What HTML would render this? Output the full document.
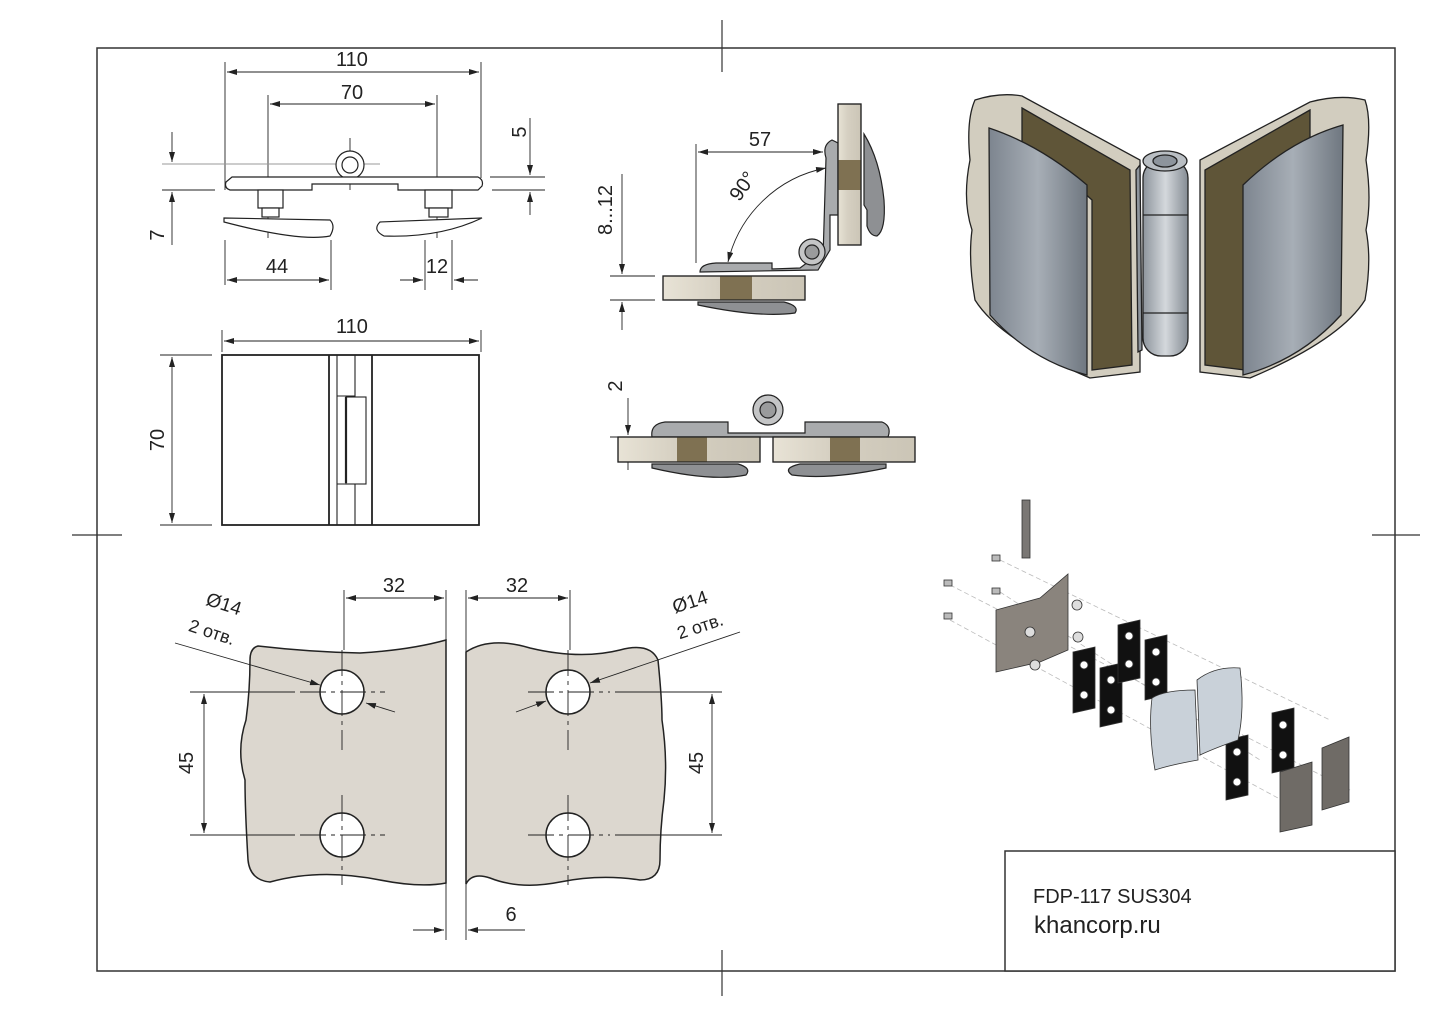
<!DOCTYPE html>
<html><head><meta charset="utf-8"><style>
html,body{margin:0;padding:0;background:#fff;}
svg{display:block;}
text{font-family:"Liberation Sans",sans-serif;fill:#222;}
</style></head><body>
<svg width="1443" height="1020" viewBox="0 0 1443 1020" xmlns="http://www.w3.org/2000/svg">
<defs>
<marker id="a" viewBox="0 0 10 6" refX="10" refY="3" markerWidth="10" markerHeight="6" orient="auto-start-reverse" markerUnits="userSpaceOnUse"><path d="M0,0 L10,3 L0,6 Z" fill="#222"/></marker>
<linearGradient id="gm" x1="0" x2="1"><stop offset="0" stop-color="#7d858f"/><stop offset="0.5" stop-color="#a7aeb6"/><stop offset="1" stop-color="#6f7780"/></linearGradient>
<linearGradient id="gk" x1="0" x2="1"><stop offset="0" stop-color="#8d949c"/><stop offset="0.5" stop-color="#d4d8dc"/><stop offset="1" stop-color="#858c94"/></linearGradient>
<linearGradient id="gg" x1="0" x2="1"><stop offset="0" stop-color="#e8e3d6"/><stop offset="0.4" stop-color="#d6d0c2"/><stop offset="1" stop-color="#cbc5b6"/></linearGradient>
</defs>
<rect width="1443" height="1020" fill="#fff"/>
<!-- frame -->
<rect x="97" y="48" width="1298" height="923" fill="none" stroke="#333" stroke-width="1.5"/>
<g stroke="#333" stroke-width="1.2">
<line x1="722" y1="20" x2="722" y2="72"/><line x1="722" y1="950" x2="722" y2="996"/>
<line x1="72" y1="535" x2="122" y2="535"/><line x1="1372" y1="535" x2="1420" y2="535"/>
</g>
<!-- title box -->
<rect x="1005" y="851" width="390" height="120" fill="#fff" stroke="#333" stroke-width="1.5"/>
<text x="1033" y="903" font-size="20">FDP-117 SUS304</text>
<text x="1034" y="933" font-size="24">khancorp.ru</text>

<!-- TOP VIEW -->
<g stroke="#222" stroke-width="0.9" fill="none">
<line x1="225" y1="62" x2="225" y2="190"/><line x1="481" y1="62" x2="481" y2="178"/>
<line x1="227" y1="72" x2="479" y2="72" marker-start="url(#a)" marker-end="url(#a)"/>
<line x1="268" y1="95" x2="268" y2="238"/><line x1="437" y1="95" x2="437" y2="238"/>
<line x1="270" y1="104" x2="435" y2="104" marker-start="url(#a)" marker-end="url(#a)"/>
<line x1="490" y1="177" x2="545" y2="177"/><line x1="492" y1="190" x2="545" y2="190"/>
<line x1="530" y1="118" x2="530" y2="175" marker-end="url(#a)"/><line x1="530" y1="215" x2="530" y2="192" marker-end="url(#a)"/>
<line x1="162" y1="164" x2="380" y2="164" stroke="#999"/><line x1="162" y1="190" x2="215" y2="190"/>
<line x1="172" y1="132" x2="172" y2="162" marker-end="url(#a)"/><line x1="172" y1="245" x2="172" y2="192" marker-end="url(#a)"/>
<line x1="350" y1="138" x2="350" y2="190"/>
<line x1="331" y1="240" x2="331" y2="290"/><line x1="225" y1="240" x2="225" y2="285"/>
<line x1="227" y1="280" x2="329" y2="280" marker-start="url(#a)" marker-end="url(#a)"/>
<line x1="425" y1="240" x2="425" y2="290"/><line x1="452" y1="240" x2="452" y2="290"/>
<line x1="400" y1="280" x2="423" y2="280" marker-end="url(#a)"/><line x1="478" y1="280" x2="454" y2="280" marker-end="url(#a)"/>
</g>
<text x="352" y="66" font-size="20" text-anchor="middle">110</text>
<text x="352" y="99" font-size="20" text-anchor="middle">70</text>
<text x="277" y="273" font-size="20" text-anchor="middle">44</text>
<text x="437" y="273" font-size="20" text-anchor="middle">12</text>
<text transform="translate(526,132) rotate(-90)" font-size="20" text-anchor="middle">5</text>
<text transform="translate(164,235) rotate(-90)" font-size="20" text-anchor="middle">7</text>
<g stroke="#222" stroke-width="1.2" fill="#fff">
<circle cx="350" cy="165" r="14"/><circle cx="350" cy="165" r="8"/>
<path d="M232,177 L335,177 L365,177 L478,177 Q484,180 482,186 L478,190 L398,190 L398,184 L330,184 L312,184 L312,190 L230,190 Q224,188 226,182 Z"/>
<rect x="258" y="190" width="25" height="18"/><rect x="262" y="208" width="17" height="9"/>
<rect x="425" y="190" width="27" height="18"/><rect x="429" y="208" width="19" height="9"/>
<path d="M224,218 L330,220 Q336,226 330,236 Q300,242 224,222 Z"/>
<path d="M380,222 L482,218 Q440,238 384,236 Q372,230 380,222 Z"/>
</g>

<!-- FRONT VIEW -->
<g stroke="#222" stroke-width="0.9" fill="none">
<line x1="222" y1="330" x2="222" y2="352"/><line x1="481" y1="330" x2="481" y2="352"/>
<line x1="224" y1="341" x2="479" y2="341" marker-start="url(#a)" marker-end="url(#a)"/>
<line x1="160" y1="355" x2="212" y2="355"/><line x1="160" y1="525" x2="212" y2="525"/>
<line x1="172" y1="357" x2="172" y2="523" marker-start="url(#a)" marker-end="url(#a)"/>
</g>
<text x="352" y="333" font-size="20" text-anchor="middle">110</text>
<text transform="translate(164,440) rotate(-90)" font-size="20" text-anchor="middle">70</text>
<g stroke="#222" stroke-width="1.8" fill="none">
<rect x="222" y="355" width="257" height="170"/>
<line x1="329" y1="355" x2="329" y2="525"/><line x1="372" y1="355" x2="372" y2="525"/>
<line x1="346" y1="397" x2="346" y2="483" stroke-width="2.2"/>
</g>
<g stroke="#222" stroke-width="1.1" fill="none">
<line x1="337" y1="355" x2="337" y2="525"/>
<path d="M337,396 L355,396 L355,355"/><path d="M337,484 L355,484 L355,525"/>
<rect x="346" y="397" width="20" height="87"/>
</g>

<!-- SIDE 90 VIEW -->
<g stroke="#222" stroke-width="0.9" fill="none">
<line x1="696" y1="144" x2="696" y2="263"/>
<line x1="698" y1="152" x2="823" y2="152" marker-start="url(#a)" marker-end="url(#a)"/>
<path d="M826,168 A125,125 0 0 0 728,262" marker-start="url(#a)" marker-end="url(#a)"/>
<line x1="610" y1="276" x2="655" y2="276"/><line x1="610" y1="300" x2="655" y2="300"/>
<line x1="622" y1="174" x2="622" y2="274" marker-end="url(#a)"/><line x1="622" y1="330" x2="622" y2="302" marker-end="url(#a)"/>
</g>
<text x="760" y="146" font-size="20" text-anchor="middle">57</text>
<text transform="translate(748,190) rotate(-55)" font-size="20" text-anchor="middle">90°</text>
<text transform="translate(612,210) rotate(-90)" font-size="20" text-anchor="middle">8...12</text>
<g stroke="#222" stroke-width="1.2">
<path d="M700,272 Q700,264 716,263 L772,263 L772,269 L800,268 L808,262 L823,258 L826,158 Q822,145 832,140 L838,143 L838,215 L830,215 L830,250 L818,270 L700,272 Z" fill="#a9abad"/>
<circle cx="812" cy="252" r="13" fill="#c4c5c6"/><circle cx="812" cy="252" r="7" fill="#9a9b9c"/>
<rect x="663" y="276" width="142" height="24" fill="url(#gg)"/>
<rect x="720" y="276" width="32" height="24" fill="#7f7152" stroke="none"/>
<rect x="838" y="104" width="23" height="141" fill="url(#gg)"/>
<rect x="838" y="160" width="23" height="30" fill="#7f7152" stroke="none"/>
<rect x="663" y="276" width="142" height="24" fill="none"/>
<rect x="838" y="104" width="23" height="141" fill="none"/>
<path d="M698,302 L784,302 Q800,306 795,313 Q760,318 698,305 Z" fill="#8e9093"/>
<path d="M864,134 Q880,160 884,200 Q886,230 877,236 Q870,236 867,226 L867,210 L864,205 Z" fill="#8e9093"/>
</g>

<!-- FLAT VIEW -->
<g stroke="#222" stroke-width="0.9" fill="none">
<line x1="610" y1="437" x2="640" y2="437"/>
<line x1="628" y1="398" x2="628" y2="435" marker-end="url(#a)"/><line x1="628" y1="470" x2="628" y2="439" marker-end="url(#a)"/>
</g>
<text transform="translate(622,386) rotate(-90)" font-size="20" text-anchor="middle">2</text>
<g stroke="#222" stroke-width="1.2">
<path d="M652,437 Q650,424 665,422 L728,422 L728,433 L805,433 L805,422 L882,422 Q892,426 888,437 Z" fill="#a9abad"/>
<circle cx="768" cy="410" r="15" fill="#c4c5c6"/><circle cx="768" cy="410" r="8" fill="#9a9b9c"/>
<rect x="618" y="437" width="142" height="25" fill="url(#gg)"/>
<rect x="677" y="437" width="30" height="25" fill="#7f7152" stroke="none"/>
<rect x="618" y="437" width="142" height="25" fill="none"/>
<rect x="773" y="437" width="142" height="25" fill="url(#gg)"/>
<rect x="830" y="437" width="30" height="25" fill="#7f7152" stroke="none"/>
<rect x="773" y="437" width="142" height="25" fill="none"/>
<path d="M652,464 L738,464 Q752,468 746,475 Q712,482 652,468 Z" fill="#8e9093"/>
<path d="M886,464 L800,464 Q782,468 792,475 Q830,480 886,468 Z" fill="#8e9093"/>
</g>

<!-- BOTTOM PLATES -->
<g stroke="#222" stroke-width="1.5" fill="#dcd7cf">
<path d="M258,646 Q310,652 360,653 Q410,650 446,640 L446,883 Q420,888 380,880 Q320,868 270,882 Q250,880 248,860 Q245,810 245,780 Q236,750 246,720 Q250,690 250,660 Q250,648 258,646 Z"/>
<path d="M466,652 Q490,636 530,648 Q580,660 620,650 Q650,642 658,660 Q662,700 662,720 Q668,760 664,800 Q660,830 660,860 Q660,880 640,880 Q600,874 560,882 Q520,890 490,878 Q472,872 466,884 Z"/>
</g>
<g stroke="#222" stroke-width="1.5" fill="#fff">
<circle cx="342" cy="692" r="22"/><circle cx="342" cy="835" r="22"/>
<circle cx="568" cy="692" r="22"/><circle cx="568" cy="835" r="22"/>
</g>
<g stroke="#222" stroke-width="0.9" fill="none" stroke-dasharray="26,5,4,5">
<line x1="342" y1="650" x2="342" y2="750"/><line x1="342" y1="795" x2="342" y2="885"/>
<line x1="568" y1="650" x2="568" y2="750"/><line x1="568" y1="795" x2="568" y2="885"/>
<line x1="300" y1="692" x2="385" y2="692"/><line x1="300" y1="835" x2="385" y2="835"/>
<line x1="528" y1="692" x2="610" y2="692"/><line x1="528" y1="835" x2="610" y2="835"/>
</g>
<g stroke="#222" stroke-width="0.9" fill="none">
<line x1="190" y1="692" x2="295" y2="692"/><line x1="190" y1="835" x2="295" y2="835"/>
<line x1="204" y1="694" x2="204" y2="833" marker-start="url(#a)" marker-end="url(#a)"/>
<line x1="615" y1="692" x2="722" y2="692"/><line x1="615" y1="835" x2="722" y2="835"/>
<line x1="712" y1="694" x2="712" y2="833" marker-start="url(#a)" marker-end="url(#a)"/>
<line x1="344" y1="590" x2="344" y2="650"/><line x1="446" y1="590" x2="446" y2="940"/>
<line x1="466" y1="590" x2="466" y2="940"/><line x1="570" y1="590" x2="570" y2="650"/>
<line x1="346" y1="598" x2="444" y2="598" marker-start="url(#a)" marker-end="url(#a)"/>
<line x1="468" y1="598" x2="568" y2="598" marker-start="url(#a)" marker-end="url(#a)"/>
<line x1="413" y1="930" x2="444" y2="930" marker-end="url(#a)"/>
<line x1="525" y1="930" x2="468" y2="930" marker-end="url(#a)"/>
<line x1="175" y1="643" x2="320" y2="685" marker-end="url(#a)"/>
<line x1="395" y1="712" x2="366" y2="703" marker-end="url(#a)"/>
<line x1="740" y1="632" x2="590" y2="683" marker-end="url(#a)"/>
<line x1="516" y1="712" x2="546" y2="701" marker-end="url(#a)"/>
</g>
<text x="394" y="592" font-size="20" text-anchor="middle">32</text>
<text x="517" y="592" font-size="20" text-anchor="middle">32</text>
<text x="511" y="921" font-size="20" text-anchor="middle">6</text>
<text transform="translate(193,763) rotate(-90)" font-size="20" text-anchor="middle">45</text>
<text transform="translate(703,763) rotate(-90)" font-size="20" text-anchor="middle">45</text>
<text transform="translate(222,610) rotate(18)" font-size="19" text-anchor="middle">Ø14</text>
<text transform="translate(210,638) rotate(18)" font-size="18" text-anchor="middle">2 отв.</text>
<text transform="translate(692,608) rotate(-18)" font-size="19" text-anchor="middle">Ø14</text>
<text transform="translate(702,632) rotate(-18)" font-size="18" text-anchor="middle">2 отв.</text>

<!-- 3D VIEW -->
<g stroke="#222" stroke-width="1.3">
<path d="M975,100 Q1000,92 1022,96 L1140,160 L1140,372 L1090,378 Q1000,340 975,300 Q968,260 972,230 Q962,200 970,160 Q966,120 975,100 Z" fill="#d2cdbf"/>
<path d="M1022,108 L1130,170 L1132,365 L1092,370 L1092,200 Q1060,170 1022,150 Z" fill="#5f5538"/>
<path d="M989,128 Q1040,145 1087,185 L1087,375 Q1030,360 990,315 Z" fill="url(#gm)"/>
<path d="M1140,165 L1142,350 L1138,352 L1136,170 Z" fill="#8d949c"/>
<path d="M1365,100 Q1340,94 1310,102 L1200,160 L1200,372 L1250,378 Q1340,340 1365,300 Q1372,260 1366,230 Q1372,200 1366,160 Q1372,120 1365,100 Z" fill="#d2cdbf"/>
<path d="M1310,110 L1205,170 L1205,365 L1245,370 L1245,200 Q1280,170 1310,150 Z" fill="#5f5538"/>
<path d="M1343,125 Q1290,140 1243,185 L1243,375 Q1300,360 1341,315 Z" fill="url(#gm)"/>
<rect x="1143" y="160" width="45" height="196" rx="18" fill="url(#gk)"/>
<ellipse cx="1165" cy="161" rx="22" ry="10" fill="#b9bec3"/>
<ellipse cx="1165" cy="161" rx="12" ry="6" fill="#8d949c"/>
<line x1="1143" y1="215" x2="1188" y2="215"/><line x1="1143" y1="313" x2="1188" y2="313"/>
</g>

<!-- EXPLODED VIEW -->
<g stroke="#bbb" stroke-width="0.8" stroke-dasharray="5,3" fill="none">
<line x1="950" y1="585" x2="1350" y2="790"/>
<line x1="950" y1="620" x2="1300" y2="810"/>
<line x1="1000" y1="560" x2="1330" y2="720"/>
<line x1="1000" y1="592" x2="1260" y2="760"/>
</g>
<g stroke="#333" stroke-width="0.8">
<rect x="1022" y="500" width="8" height="58" fill="#7a7774"/>
<path d="M996,610 L1040,598 L1068,574 L1068,650 L1040,662 L996,672 Z" fill="#8a847d"/>
<circle cx="1030" cy="632" r="5" fill="#ddd"/>
<g fill="#bbb"><rect x="992" y="555" width="8" height="6"/><rect x="944" y="580" width="8" height="6"/><rect x="992" y="588" width="8" height="6"/><rect x="944" y="613" width="8" height="6"/></g>
<g fill="#ddd"><circle cx="1077" cy="605" r="5"/><circle cx="1078" cy="637" r="5"/><circle cx="1035" cy="665" r="5"/></g>
<g fill="#111">
<path d="M1073,652 L1095,647 L1095,708 L1073,713 Z"/>
<path d="M1100,668 L1122,663 L1122,722 L1100,727 Z"/>
<path d="M1118,625 L1140,620 L1140,678 L1118,683 Z"/>
<path d="M1145,640 L1167,635 L1167,695 L1145,700 Z"/>
<path d="M1226,740 L1248,735 L1248,795 L1226,800 Z"/>
<path d="M1272,713 L1294,708 L1294,768 L1272,773 Z"/>
</g>
<g fill="#fff"><circle cx="1084" cy="665" r="4"/><circle cx="1084" cy="695" r="4"/><circle cx="1111" cy="680" r="4"/><circle cx="1111" cy="710" r="4"/><circle cx="1129" cy="636" r="4"/><circle cx="1129" cy="664" r="4"/><circle cx="1156" cy="652" r="4"/><circle cx="1156" cy="682" r="4"/><circle cx="1237" cy="752" r="4"/><circle cx="1237" cy="782" r="4"/><circle cx="1283" cy="725" r="4"/><circle cx="1283" cy="755" r="4"/></g>
<path d="M1152,698 Q1165,690 1195,690 L1198,760 Q1170,765 1155,770 Q1148,730 1152,698 Z" fill="#c9d1d9"/>
<path d="M1197,680 Q1215,666 1240,668 Q1245,710 1238,740 Q1215,748 1200,755 Z" fill="#c9d1d9"/>
<path d="M1280,772 L1312,762 L1312,825 L1280,832 Z" fill="#6f6b66"/>
<path d="M1322,748 L1349,737 L1349,802 L1322,810 Z" fill="#6f6b66"/>
</g>
</svg>
</body></html>
